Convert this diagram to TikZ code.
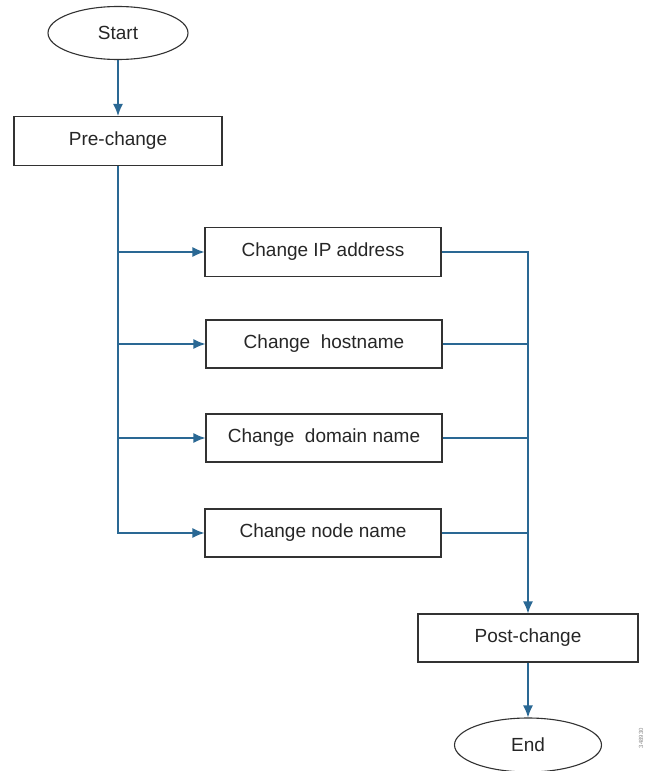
\documentclass[tikz,border=0pt]{standalone}
\usepackage{fontspec}
\setmainfont{Liberation Sans}
\usetikzlibrary{shapes.geometric,arrows.meta}
\definecolor{conncol}{RGB}{42,104,148}
\definecolor{boxcol}{RGB}{50,50,50}
\begin{document}
\begin{tikzpicture}[x=1pt,y=-1pt,
  every node/.style={font=\fontsize{19}{22}\selectfont, text=black!85},
  boxnode/.style={draw=boxcol, line width=1.1pt, rectangle, inner sep=0pt},
  ovalnode/.style={draw=boxcol, line width=1.1pt, ellipse, inner sep=0pt},
  conn/.style={draw=conncol, line width=1.4pt},
  tip/.style={-{Latex[length=12pt,width=10pt]}}
]
\useasboundingbox (0,0) rectangle (647,771);
\node[ovalnode, minimum width=140, minimum height=53] (start) at (118,33) {Start};
\node[boxnode, minimum width=208, minimum height=49] (pre) at (118,141) {Pre-change};
\node[boxnode, minimum width=236, minimum height=49] (ip) at (323,252) {Change IP address};
\node[boxnode, minimum width=236, minimum height=48] (host) at (324,344) {Change\ \ hostname};
\node[boxnode, minimum width=236, minimum height=48] (dom) at (324,438) {Change\ \ domain name};
\node[boxnode, minimum width=236, minimum height=48] (nn) at (323,533) {Change node name};
\node[boxnode, minimum width=220, minimum height=48] (post) at (528,638) {Post-change};
\node[ovalnode, minimum width=147, minimum height=54] (end) at (528,745) {End};
\node[font=\fontsize{6}{7}\selectfont, text=black!45, rotate=90] (fig) at (641,738) {348930};

\draw[conn, tip] (start) -- (pre);
\draw[conn, tip] (pre.south) |- (nn.west);
\draw[conn, tip] (pre.south |- ip.west) -- (ip.west);
\draw[conn, tip] (pre.south |- host.west) -- (host.west);
\draw[conn, tip] (pre.south |- dom.west) -- (dom.west);
\draw[conn, tip] (ip.east) -| (post.north);
\draw[conn] (host.east) -- (host.east -| post.north);
\draw[conn] (dom.east) -- (dom.east -| post.north);
\draw[conn] (nn.east) -- (nn.east -| post.north);
\draw[conn, tip] (post) -- (end);
\end{tikzpicture}
\end{document}
